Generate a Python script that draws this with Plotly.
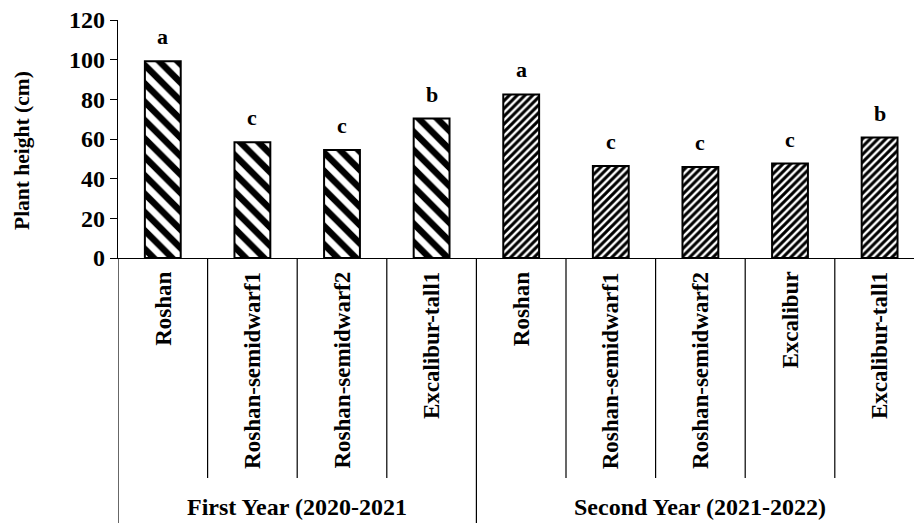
import plotly.graph_objects as go

# Plant height per genotype, two growing seasons
categories = ["Roshan", "Roshan-semidwarf1", "Roshan-semidwarf2", "Excalibur-tall1",
              "Roshan", "Roshan-semidwarf1", "Roshan-semidwarf2", "Excalibur", "Excalibur-tall1"]
heights = [99.2, 58.3, 54.5, 70.3, 82.5, 46.4, 45.9, 47.6, 60.7]
letters = ["a", "c", "c", "b", "a", "c", "c", "c", "b"]
group_names = ["First Year (2020-2021", "Second Year (2021-2022)"]
group_sizes = [4, 5]
y_title = "Plant height (cm)"

FONT = "Liberation Serif"
W, H = 914, 523
M_L, M_T, M_B = 118, 20, 265
plot_h = H - M_T - M_B
cat_px = 89.6
x_max = -0.5 + (W - M_L) / cat_px


def px_to_paper(py):
    # pixel row -> paper y coordinate
    return -(py - (H - M_B)) / plot_h


fig = go.Figure()

start = 0
for gi, n in enumerate(group_sizes):
    xs = list(range(start, start + n))
    if gi == 0:
        pattern = dict(shape="\\", size=13, solidity=0.5, fgcolor="black",
                       bgcolor="white", fgopacity=1)
    else:
        pattern = dict(shape="/", size=5.5, solidity=0.55, fgcolor="black",
                       bgcolor="white", fgopacity=1)
    fig.add_trace(go.Bar(
        x=xs, y=heights[start:start + n], width=0.4,
        marker=dict(color="white", pattern=pattern, line=dict(color="black", width=2)),
        showlegend=False,
    ))
    start += n

# significance letters above bars
for i, (h, lt) in enumerate(zip(heights, letters)):
    fig.add_annotation(x=i, y=h, text=lt, showarrow=False, yanchor="bottom", yshift=10,
                       font=dict(family=FONT, size=22, color="black", weight="bold"))

# rotated category labels under the axis
for i, name in enumerate(categories):
    fig.add_annotation(x=i, y=0, yref="paper", text=name, textangle=-90, showarrow=False,
                       yanchor="top", yshift=-12, xanchor="center",
                       font=dict(family=FONT, size=23, color="black", weight="bold"))

# category dividers and group labels
inner_bottom = px_to_paper(478)
outer_bottom = px_to_paper(H + 5)
start = 0
for gi, n in enumerate(group_sizes):
    fig.add_shape(type="line", xref="x", yref="paper", x0=start - 0.5, x1=start - 0.5,
                  y0=0, y1=outer_bottom, line=dict(color="black", width=1.2))
    for k in range(1, n):
        xb = start + k - 0.5
        fig.add_shape(type="line", xref="x", yref="paper", x0=xb, x1=xb,
                      y0=0, y1=inner_bottom, line=dict(color="black", width=1.2))
    center = start + (n - 1) / 2
    fig.add_annotation(x=center, y=px_to_paper(507), yref="paper", text=group_names[gi],
                       showarrow=False, yanchor="middle",
                       font=dict(family=FONT, size=24, color="black", weight="bold"))
    start += n

# y-axis title
fig.add_annotation(x=0, xref="paper", xshift=-(M_L - 22), xanchor="center",
                   y=px_to_paper(151), yref="paper", yanchor="middle",
                   text=y_title, textangle=-90, showarrow=False,
                   font=dict(family=FONT, size=21.5, color="black", weight="bold"))

fig.update_layout(
    width=W, height=H,
    margin=dict(l=M_L, r=0, t=M_T, b=M_B),
    plot_bgcolor="white", paper_bgcolor="white",
    bargap=0.6,
    xaxis=dict(range=[-0.5, x_max], showticklabels=False, ticks="", showgrid=False,
               zeroline=False, showline=True, linecolor="black", linewidth=1.2),
    yaxis=dict(range=[0, 120], dtick=20, showgrid=False, zeroline=False,
               showline=True, linecolor="black", linewidth=1.2,
               ticks="outside", ticklen=7, tickcolor="black", tickwidth=1.2,
               tickfont=dict(family=FONT, size=24, color="black", weight="bold")),
)

fig.write_html("out.html")
